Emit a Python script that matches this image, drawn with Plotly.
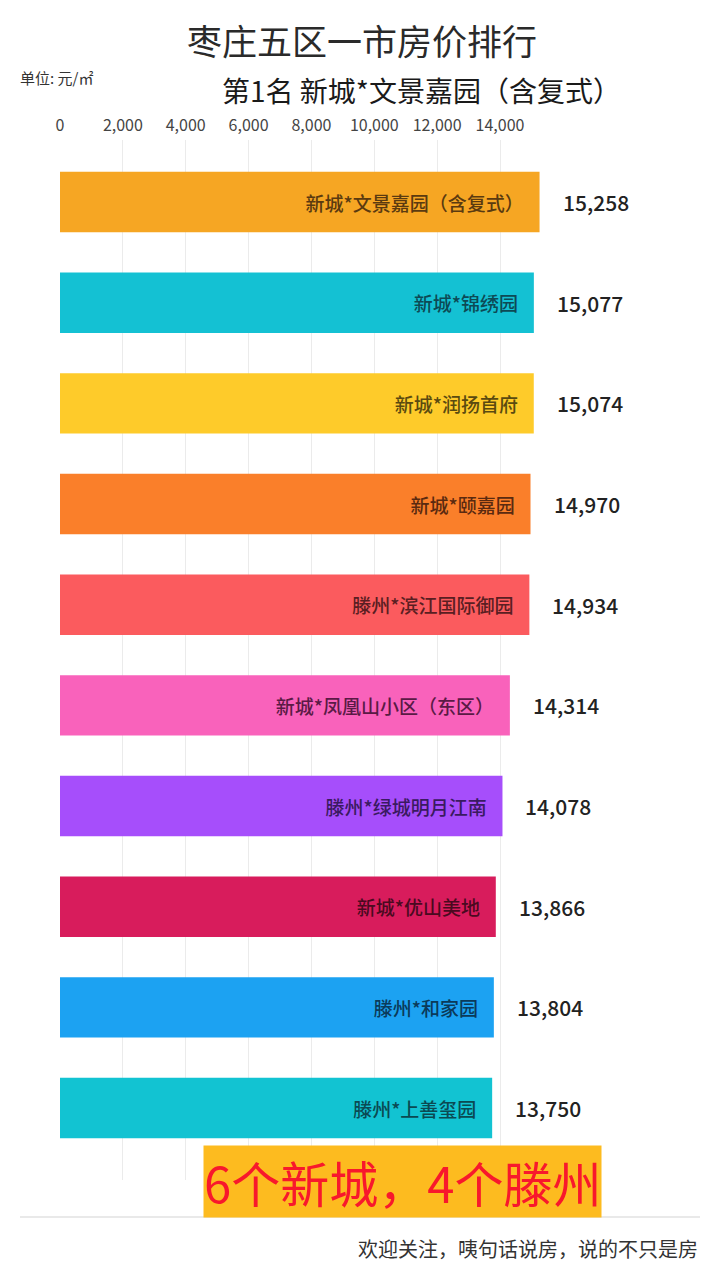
import plotly.graph_objects as go

names = ["新城*文景嘉园（含复式）", "新城*锦绣园", "新城*润扬首府", "新城*颐嘉园",
         "滕州*滨江国际御园", "新城*凤凰山小区（东区）", "滕州*绿城明月江南",
         "新城*优山美地", "滕州*和家园", "滕州*上善玺园"]
prices = [15258, 15077, 15074, 14970, 14934, 14314, 14078, 13866, 13804, 13750]
bar_colors = ["#F6A623", "#14C1D3", "#FECB2A", "#FA7F2A", "#FB5B5E",
              "#F962BB", "#A64EFB", "#D81C5C", "#1CA2F2", "#12C3D2"]
label_colors = ["#5a3a10", "#0d4a55", "#5a4a10", "#5a2a10", "#5a1e22",
                "#5a1a45", "#3a1a60", "#4a0a20", "#0b3a5a", "#0b4a52"]
tick_vals = [0, 2000, 4000, 6000, 8000, 10000, 12000, 14000]

title = "枣庄五区一市房价排行"
subtitle = "第1名 新城*文景嘉园（含复式）"
unit = "单位: 元/㎡"
note = "6个新城，4个滕州"
footer = "欢迎关注，咦句话说房，说的不只是房"

FONT = "Noto Sans CJK SC"
ypos = list(range(len(names)))

fig = go.Figure()
fig.add_trace(go.Bar(
    x=prices, y=ypos, orientation="h", width=0.6,
    marker=dict(color=bar_colors, line=dict(width=0)),
    text=names, texttemplate="%{text}   ", textposition="inside", insidetextanchor="end",
    textfont=dict(family=FONT, size=19, color=label_colors, weight=500),
    cliponaxis=False, hoverinfo="skip",
))

for p, y in zip(prices, ypos):
    fig.add_annotation(x=p, y=y, text=f"{p:,}", showarrow=False,
                       xanchor="left", xshift=21,
                       font=dict(family=FONT, size=21, color="#222222", weight=500))

fig.update_xaxes(side="top", range=[0, 20363], tickvals=tick_vals,
                 tickformat=",", showgrid=True, gridcolor="#EBEBEB", gridwidth=1,
                 zeroline=False, showline=False, ticks="", ticklabelstandoff=5,
                 tickfont=dict(family=FONT, size=16, color="#444444"))
fig.update_yaxes(range=[9.715, -0.616], showticklabels=False, showgrid=False,
                 zeroline=False, showline=False)

# bottom separator line
fig.add_shape(type="line", xref="paper", yref="paper",
              x0=-0.0625, x1=1.0, y0=-0.0356, y1=-0.0356,
              line=dict(color="#E2E2E2", width=1.5))

fig.add_annotation(xref="paper", yref="paper", x=(362 - 60) / 640, y=(1180 - 40) / 1040,
                   text=title, showarrow=False, xanchor="center", yanchor="middle",
                   font=dict(family=FONT, size=35, color="#2a2a2a"))
fig.add_annotation(xref="paper", yref="paper", x=(220 - 60) / 640, y=(1180 - 90) / 1040,
                   text=subtitle, showarrow=False, xanchor="left", yanchor="middle",
                   font=dict(family=FONT, size=28, color="#1a1a1a"))
fig.add_annotation(xref="paper", yref="paper", x=(18 - 60) / 640, y=(1180 - 78) / 1040,
                   text=unit, showarrow=False, xanchor="left", yanchor="middle",
                   font=dict(family=FONT, size=15, color="#333333"))
fig.add_annotation(xref="paper", yref="paper", x=(402 - 60) / 640, y=(1180 - 1181) / 1040,
                   text=note, showarrow=False, xanchor="center", yanchor="middle",
                   bgcolor="#FDBB1F", borderpad=0,
                   font=dict(family=FONT, size=49, color="#F8182C"))
fig.add_annotation(xref="paper", yref="paper", x=1.0, y=(1180 - 1248) / 1040,
                   text=footer, showarrow=False, xanchor="right", yanchor="middle",
                   font=dict(family=FONT, size=20, color="#333333"))

# page body has an 8px margin, so shift the figure box accordingly
fig.update_layout(width=720, height=1280,
                  margin=dict(l=52, r=28, t=132, b=108),
                  paper_bgcolor="white", plot_bgcolor="white",
                  showlegend=False,
                  uniformtext=dict(mode=False))

fig.write_html("out.html")
